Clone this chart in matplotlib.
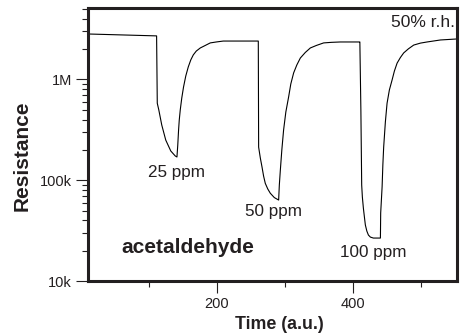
import numpy as np
import matplotlib
matplotlib.use('Agg')
import matplotlib.pyplot as plt
from matplotlib.ticker import FixedLocator, FixedFormatter, LogLocator, NullFormatter

plt.rcParams['font.family'] = ['Liberation Sans', 'DejaVu Sans']

# sensor response (time in a.u., resistance in ohm)
tiempo = [10, 111, 112, 114.2, 118.6, 124.5, 131.9, 138.5, 141.0,
          142.2, 143.4, 144.4, 145.9, 148.1, 150.7, 154.0, 157.7, 161.4, 165.1,
          169.5, 175.4, 182.7, 190.1, 199.0, 209.3, 227.0, 260.9,
          261.4, 263.9, 266.4, 268.7, 271.2, 274.9, 278.6, 284.5, 290.9,
          291.9, 293.4, 295.6, 298.2, 301.5, 305.6, 308.8, 313.0, 317.7,
          322.9, 330.2, 337.6, 346.5, 357.2, 368.6, 381.9, 409.5,
          410.6, 412.1, 413.3, 414.3, 415.8, 417.3, 418.7, 420.9, 423.2,
          426.1, 430.5, 440.9,
          441.3, 443.4, 444.5, 445.7, 448.2, 450.7, 454.1, 458.1, 461.5,
          465.5, 470.4, 475.2, 482.2, 490.0, 499.9, 509.7, 529.4, 554.9]
resistencia = [2.82e6, 2.70e6, 0.58e6, 0.50e6, 0.353e6, 0.25e6, 0.195e6, 0.174e6, 0.170e6,
               0.223e6, 0.315e6, 0.395e6, 0.50e6, 0.653e6, 0.84e6, 1.08e6, 1.33e6, 1.56e6, 1.75e6,
               1.91e6, 2.05e6, 2.17e6, 2.30e6, 2.35e6, 2.40e6, 2.40e6, 2.40e6,
               0.213e6, 0.166e6, 0.135e6, 0.110e6, 93.1e3, 81.8e3, 74.3e3, 67.3e3, 63.6e3,
               89.6e3, 0.126e6, 0.20e6, 0.315e6, 0.475e6, 0.67e6, 0.90e6, 1.16e6, 1.39e6,
               1.63e6, 1.85e6, 2.05e6, 2.17e6, 2.30e6, 2.33e6, 2.35e6, 2.35e6,
               2.35e6, 0.50e6, 89.6e3, 68.1e3, 52.8e3, 43.2e3, 36.0e3, 31.3e3, 28.6e3,
               27.3e3, 26.7e3, 26.7e3,
               47.3e3, 86.1e3, 0.142e6, 0.213e6, 0.378e6, 0.58e6, 0.785e6, 0.986e6, 1.21e6,
               1.45e6, 1.65e6, 1.83e6, 2.01e6, 2.19e6, 2.29e6, 2.35e6, 2.46e6, 2.52e6]

y_ticks = [1e4, 1e5, 1e6]
y_labels = ['10k', '100k', '1M']
x_ticks = [200, 400]
x_minor = [100, 300, 500]

conc_labels = ['25 ppm', '50 ppm', '100 ppm']
conc_pos = [(140, 1.2e5), (283, 4.94e4), (430.6, 1.94e4)]

color_txt = '#231f20'

fig = plt.figure(figsize=(4.66, 3.35), dpi=100)
ax = fig.add_axes([0.189, 0.161, 0.792, 0.815])

ax.plot(tiempo, resistencia, color='black', linewidth=0.8)

ax.set_yscale('log')
ax.set_xlim(10, 554)
ax.set_ylim(1e4, 5.1e6)

ax.yaxis.set_major_locator(FixedLocator(y_ticks))
ax.yaxis.set_major_formatter(FixedFormatter(y_labels))
ax.yaxis.set_minor_locator(LogLocator(base=10, subs=np.arange(2, 10)))
ax.yaxis.set_minor_formatter(NullFormatter())
ax.xaxis.set_major_locator(FixedLocator(x_ticks))
ax.xaxis.set_minor_locator(FixedLocator(x_minor))

for s in ax.spines.values():
    s.set_linewidth(2.2)
    s.set_color(color_txt)

ax.tick_params(which='major', direction='out', length=8.5, width=0.8, pad=3,
               labelsize=10.5, colors=color_txt)
ax.tick_params(which='minor', direction='out', length=4.5, width=0.8, colors=color_txt)

ax.set_ylabel('Resistance', fontsize=15, fontweight='bold', color=color_txt)
ax.yaxis.set_label_coords(-0.152, 0.46)
ax.set_xlabel('Time (a.u.)', fontsize=12.8, fontweight='bold', color=color_txt)
ax.xaxis.set_label_coords(0.518, -0.128)

for txt, (x, y) in zip(conc_labels, conc_pos):
    ax.text(x, y, txt, ha='center', va='center', fontsize=12.3, color=color_txt)

ax.text(156.7, 2.17e4, 'acetaldehyde', ha='center', va='center', fontsize=15,
        fontweight='bold', color=color_txt)
ax.text(551, 3.63e6, '50% r.h.', ha='right', va='center', fontsize=12.5, color=color_txt)

fig.savefig('out.png', dpi=100)
